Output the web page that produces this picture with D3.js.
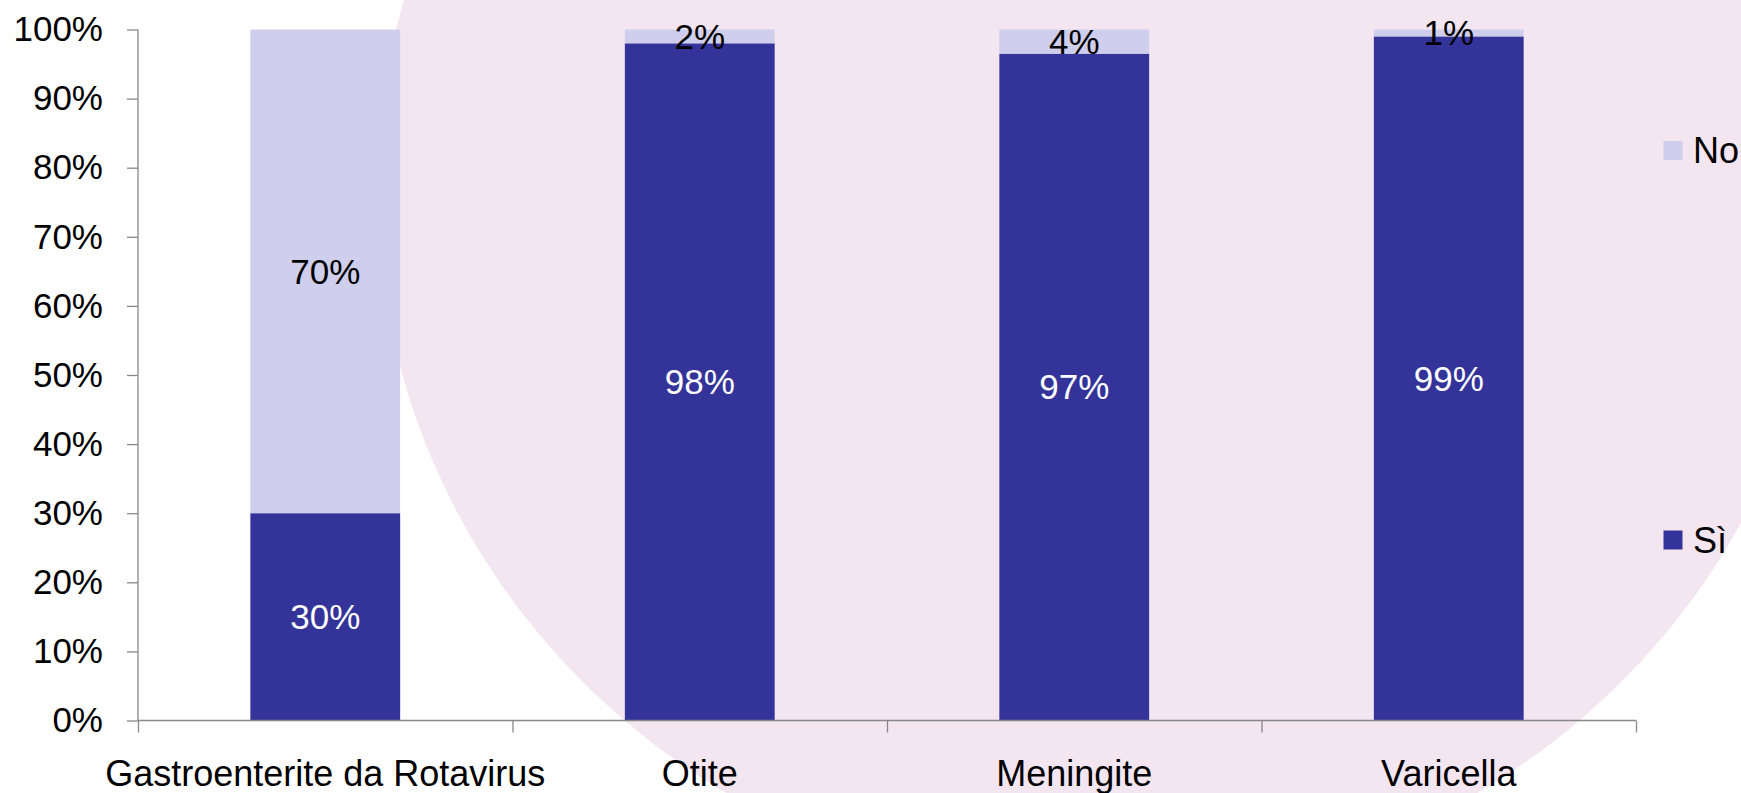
<!DOCTYPE html>
<html>
<head>
<meta charset="utf-8">
<script src="https://cdn.jsdelivr.net/npm/d3@7/dist/d3.min.js"></script>
<style>
  html, body { margin: 0; padding: 0; background: #ffffff; }
  svg { display: block; font-family: "Liberation Sans", Arial, sans-serif; }
</style>
</head>
<body>
<svg id="chart" width="1741" height="793"></svg>
<script>
// ---- data ----
const categories = ["Gastroenterite da Rotavirus", "Otite", "Meningite", "Varicella"];
const seriesNames = ["Sì", "No"];
const siValues = [30, 98, 96.5, 99];
const noValues = [70, 2, 3.5, 1];
const yTickValues = [0, 10, 20, 30, 40, 50, 60, 70, 80, 90, 100];

// ---- layout ----
const W = 1741, H = 793;
const margin = { left: 138, right: 105, top: 29.5, bottom: 72.5 };
const plotW = W - margin.left - margin.right;
const plotH = H - margin.top - margin.bottom;
const colors = { "Sì": "#333399", "No": "#cfcfed" };

const svg = d3.select("#chart");

// decorative background ellipse
svg.append("ellipse")
  .attr("cx", 1102).attr("cy", 190)
  .attr("rx", 725).attr("ry", 705)
  .attr("fill", "#f4e6f1");

const g = svg.append("g").attr("transform", `translate(${margin.left},${margin.top})`);

const x = d3.scaleBand().domain(categories).range([0, plotW]).paddingInner(0.6).paddingOuter(0.3);
const y = d3.scaleLinear().domain([0, 100]).range([plotH, 0]);
const xb = d3.scaleLinear().domain([0, categories.length]).range([0, plotW]);

// stacked data
const rows = categories.map((c, i) => ({ cat: c, "Sì": siValues[i], "No": noValues[i] }));
const stack = d3.stack().keys(seriesNames)(rows);

const layers = g.selectAll("g.layer").data(stack).enter().append("g")
  .attr("class", "layer").attr("fill", d => colors[d.key]);

layers.selectAll("rect").data(d => d).enter().append("rect")
  .attr("x", d => x(d.data.cat))
  .attr("width", x.bandwidth())
  .attr("y", d => y(d[1]))
  .attr("height", d => y(d[0]) - y(d[1]));

// data labels
stack.forEach(layer => {
  g.selectAll(null).data(layer).enter().append("text")
    .attr("x", d => x(d.data.cat) + x.bandwidth() / 2)
    .attr("y", d => y((d[0] + d[1]) / 2))
    .attr("dy", "0.35em")
    .attr("text-anchor", "middle")
    .attr("font-size", 35)
    .attr("fill", layer.key === "Sì" ? "#ffffff" : "#000000")
    .text(d => Math.round(d.data[layer.key]) + "%");
});

// y axis
const yAxis = g.append("g")
  .call(d3.axisLeft(y).tickValues(yTickValues).tickFormat(d => d + "%").tickSize(11).tickPadding(24));
yAxis.selectAll("text").attr("font-size", 35).attr("fill", "#000").attr("font-family", "Liberation Sans, Arial, sans-serif");
yAxis.selectAll("line").attr("stroke", "#888888").attr("stroke-width", 1.3);
yAxis.select(".domain").attr("stroke", "#888888").attr("stroke-width", 1.3).attr("d", `M0,0V${plotH}`);

// x axis: boundary ticks
const xAxisTicks = g.append("g").attr("transform", `translate(0,${plotH})`)
  .call(d3.axisBottom(xb).tickValues(d3.range(categories.length + 1)).tickFormat("").tickSize(12));
xAxisTicks.selectAll("line").attr("stroke", "#888888").attr("stroke-width", 1.3);
xAxisTicks.select(".domain").attr("stroke", "#888888").attr("stroke-width", 1.3).attr("d", `M0,0H${plotW}`);

// x axis: category labels
const xAxisLabels = g.append("g").attr("transform", `translate(0,${plotH})`)
  .call(d3.axisBottom(x).tickSize(0).tickPadding(40));
xAxisLabels.select(".domain").remove();
xAxisLabels.selectAll("text").attr("font-size", 36).attr("fill", "#000").attr("font-family", "Liberation Sans, Arial, sans-serif");

// legend
const legendItems = [
  { key: "No", cy: 150.5 },
  { key: "Sì", cy: 540 }
];
const lg = svg.append("g");
legendItems.forEach(it => {
  lg.append("rect").attr("x", 1663.5).attr("y", it.cy - 9.5).attr("width", 19).attr("height", 19)
    .attr("fill", colors[it.key]);
  lg.append("text").attr("x", 1693).attr("y", it.cy).attr("dy", "0.35em")
    .attr("font-size", 36).attr("fill", "#000").text(it.key);
});
</script>
</body>
</html>
